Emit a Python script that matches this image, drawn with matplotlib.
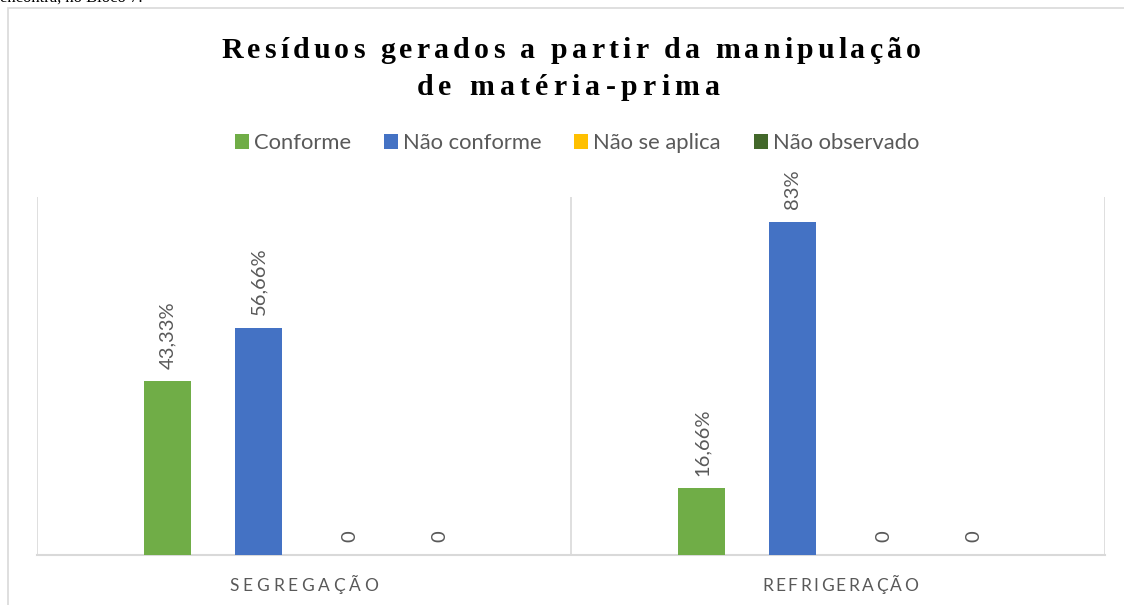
import matplotlib
matplotlib.use("Agg")
import matplotlib.pyplot as plt
from matplotlib.patches import Rectangle, Patch
from matplotlib.font_manager import FontProperties, findfont, get_font
from matplotlib.ft2font import LOAD_NO_HINTING

# data
categories = ["SEGREGAÇÃO", "REFRIGERAÇÃO"]
series = ["Conforme", "Não conforme", "Não se aplica", "Não observado"]
conforme = [43.33, 16.66]
nao_conforme = [56.66, 83]
nao_aplica = [0, 0]
nao_observado = [0, 0]
conforme_lbl = ["43,33%", "16,66%"]
nao_conforme_lbl = ["56,66%", "83%"]
nao_aplica_lbl = ["0", "0"]
nao_observado_lbl = ["0", "0"]

values = [conforme, nao_conforme, nao_aplica, nao_observado]
labels = [conforme_lbl, nao_conforme_lbl, nao_aplica_lbl, nao_observado_lbl]
colors = ["#70AD47", "#4472C4", "#FFC000", "#43682B"]
grey = "#595959"

W, H = 1124, 605
fig = plt.figure(figsize=(W / 100, H / 100), dpi=100)


def fx(px):
    return px / W


def fy(py):
    return 1 - py / H


def spaced_text(s, cx, baseline, prop, extra=None, width=None, **kw):
    # draws text with letter spacing, centred on cx (pixels)
    font = get_font(findfont(prop))
    font.set_size(prop.get_size_in_points(), 100)
    advs = []
    for c in s:
        g = font.load_char(ord(c), flags=LOAD_NO_HINTING)
        advs.append(g.linearHoriAdvance / 65536)
    if extra is None:
        extra = (width - sum(advs)) / (len(s) - 1)
    total = sum(advs) + extra * (len(s) - 1)
    x = cx - total / 2
    for c, a in zip(s, advs):
        if c != " ":
            fig.text(fx(x + a / 2), fy(baseline), c, fontproperties=prop,
                     ha="center", va="baseline", **kw)
        x += a + extra
    return extra


# cut text from the page above the chart
fig.text(fx(0), fy(1.5), "encontra, no Bloco 7.", family="Liberation Serif",
         fontsize=12, color="black", ha="left", va="baseline")

# chart border
fig.patches.append(Rectangle((fx(8), fy(H + 20)), 1.2, fy(8) - fy(H + 20),
                             transform=fig.transFigure, fill=False,
                             edgecolor="#D9D9D9", linewidth=1.2))

# title
tprop = FontProperties(family="Liberation Serif", weight="bold", size=21.5)
spaced_text("Resíduos gerados a partir da manipulação", 571, 58, tprop,
            width=700, color="black")
spaced_text("de matéria-prima", 568, 95, tprop, width=303, color="black")

# axes
ax = fig.add_axes([fx(37), fy(555), fx(1105) - fx(37), fy(197) - fy(555)])
width = 0.088
offsets = [-0.255, -0.085, 0.085, 0.255]
for vals, lbls, col, off in zip(values, labels, colors, offsets):
    xs = [i + off for i in range(len(categories))]
    bars = ax.bar(xs, vals, width=width, color=col, zorder=3)
    ax.bar_label(bars, labels=lbls, rotation=90, padding=9, color=grey,
                 fontsize=14.5, family="Lato")

ax.set_xlim(-0.5, len(categories) - 0.5)
ax.set_ylim(0, 89.2)
for xv in [-0.5, 0.5, 1.5]:
    ax.axvline(xv, color="#D9D9D9", linewidth=1.2, zorder=1)
for s in ["top", "right", "left"]:
    ax.spines[s].set_visible(False)
ax.spines["bottom"].set_color("#D9D9D9")
ax.spines["bottom"].set_linewidth(1.5)
ax.set_yticks([])
ax.set_xticks([])

# category labels with letter spacing
cprop = FontProperties(family="Lato", size=12.5)
spaced_text(categories[0], 304, 591, cprop, width=149, color=grey)
spaced_text(categories[1], 840, 591, cprop, width=156, color=grey)

# legend
handles = [Patch(facecolor=c, edgecolor="none") for c in colors]
fig.legend(handles, series, loc="center", ncol=4,
           bbox_to_anchor=(fx(577), fy(143)), frameon=False,
           prop=FontProperties(family="Lato", size=15.8),
           labelcolor=grey, handlelength=0.64, handleheight=0.64,
           handletextpad=0.23, columnspacing=1.5)

fig.savefig("out.png", dpi=100, facecolor="white")
